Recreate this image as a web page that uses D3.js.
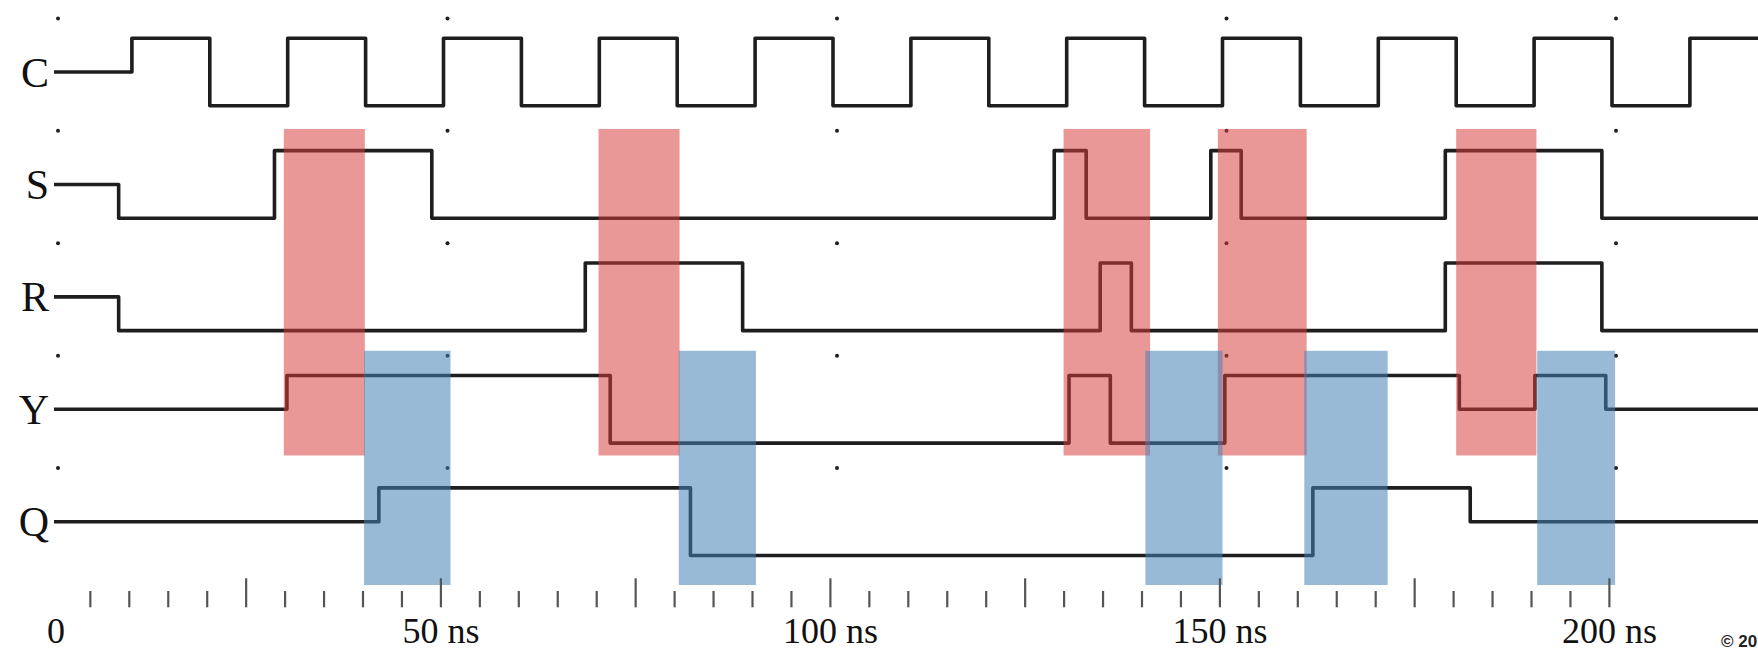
<!DOCTYPE html>
<html>
<head>
<meta charset="utf-8">
<script src="https://cdn.jsdelivr.net/npm/d3@7"></script>
<style>
    html, body { margin: 0; padding: 0; background: #fff; }
    svg { display: block; }
</style>
</head>
<body>
<svg id="timingSVG"></svg>
<script>
(function () {
    'use strict';

    // signal names, top to bottom
    const signalNames = ["C", "S", "R", "Y", "Q"];

    // each signal: [time ns, level] change points; 0.5 = undefined (middle) level
    const clockSignal = [[0, 0.5], [10, 1], [20, 0], [30, 1], [40, 0], [50, 1], [60, 0], [70, 1],
        [80, 0], [90, 1], [100, 0], [110, 1], [120, 0], [130, 1], [140, 0], [150, 1], [160, 0],
        [170, 1], [180, 0], [190, 1], [200, 0], [210, 1]];
    const setSignal = [[0, 0.5], [8.3, 0], [28.3, 1], [48.5, 0], [128.4, 1], [132.5, 0],
        [148.5, 1], [152.4, 0], [178.6, 1], [198.7, 0]];
    const resetSignal = [[0, 0.5], [8.3, 0], [68.2, 1], [88.4, 0], [134.3, 1], [138.3, 0],
        [178.6, 1], [198.7, 0]];
    const masterSignal = [[0, 0.5], [29.9, 1], [71.4, 0], [130.3, 1], [135.6, 0], [150.3, 1],
        [180.4, 0.5], [190.1, 1], [199.2, 0.5]];
    const outputSignal = [[0, 0.5], [41.7, 1], [81.7, 0], [161.6, 1], [181.8, 0.5]];

    // highlighted intervals (ns)
    const redBands = [[29.5, 39.9], [69.9, 80.3], [129.6, 140.7], [149.4, 160.8], [180, 190.3]];
    const blueBands = [[39.8, 50.9], [80.2, 90.1], [140.1, 150], [160.5, 171.2], [190.4, 200.4]];

    // time axis
    const dotTimes = [0, 50, 100, 150, 200];
    const tickTimes = [5, 10, 15, 20, 25, 30, 35, 40, 45, 50, 55, 60, 65, 70, 75, 80, 85, 90, 95, 100,
        105, 110, 115, 120, 125, 130, 135, 140, 145, 150, 155, 160, 165, 170, 175, 180, 185, 190, 195, 200];
    const labelTimes = [0, 50, 100, 150, 200];
    const labelTexts = ["0", "50 ns", "100 ns", "150 ns", "200 ns"];

    const chartWidth = 1758;
    const chartHeight = 652;
    const endTime = 222;

    const signals = [clockSignal, setSignal, resetSignal, masterSignal, outputSignal];

    const x = d3.scaleLinear()
            .domain([0, endTime])
            .range([54, 54 + endTime * 7.79]);

    const row = d3.scalePoint()
            .domain(signalNames)
            .range([72, 521.7]);

    const level = d3.scaleLinear()
            .domain([0, 1])
            .range([33.8, -33.8]);

    const svg = d3.select('#timingSVG')
            .attr("width", chartWidth)
            .attr("height", chartHeight)
            .attr("viewBox", `0 0 ${chartWidth} ${chartHeight}`);

    // little dots every 50 ns above each trace
    const dots = svg.append("g").attr("fill", "#1e1e1e");
    signalNames.forEach(name => {
        dots.selectAll(null)
                .data(dotTimes)
                .join("circle")
                .attr("cx", d => x(d) + 4)
                .attr("cy", row(name) - 53.6)
                .attr("r", 2);
    });

    // signal names
    svg.append("g")
            .attr("text-anchor", "end")
            .style("font", "42px 'Liberation Serif', 'Times New Roman', serif")
            .attr("fill", "#111")
            .selectAll("text")
            .data(signalNames)
            .join("text")
            .attr("x", 49)
            .attr("y", d => row(d) + 14.5)
            .text(d => d);

    // traces
    signals.forEach((sig, i) => {
        const name = signalNames[i];
        const pts = sig.concat([[endTime, sig[sig.length - 1][1]]]);
        const line = d3.line()
                .curve(d3.curveStepAfter)
                .x(d => x(d[0]))
                .y(d => row(name) + level(d[1]));
        svg.append("path")
                .datum(pts)
                .attr("fill", "none")
                .attr("stroke", "#1e1e1e")
                .attr("stroke-width", 3.6)
                .attr("stroke-linejoin", "round")
                .attr("d", line);
    });

    // highlight bands sit on top of the traces
    svg.append("g")
            .selectAll("rect")
            .data(redBands)
            .join("rect")
            .attr("x", d => x(d[0]))
            .attr("width", d => x(d[1]) - x(d[0]))
            .attr("y", row("S") - 55.5)
            .attr("height", (row("Y") + 46.2) - (row("S") - 55.5))
            .attr("fill", "#d83b3b")
            .attr("fill-opacity", 0.53);

    svg.append("g")
            .selectAll("rect")
            .data(blueBands)
            .join("rect")
            .attr("x", d => x(d[0]))
            .attr("width", d => x(d[1]) - x(d[0]))
            .attr("y", row("Y") - 58.5)
            .attr("height", (row("Q") + 63.3) - (row("Y") - 58.5))
            .attr("fill", "#4682b4")
            .attr("fill-opacity", 0.55);

    // ticks, longer every 25 ns
    svg.append("g")
            .attr("transform", "translate(-2.6,0)")
            .attr("stroke", "#555")
            .attr("stroke-width", 2.2)
            .selectAll("line")
            .data(tickTimes)
            .join("line")
            .attr("x1", d => x(d))
            .attr("x2", d => x(d))
            .attr("y1", d => d % 25 === 0 ? 578.3 : 591)
            .attr("y2", 607.3);

    svg.append("g")
            .attr("text-anchor", "middle")
            .style("font", "36px 'Liberation Serif', 'Times New Roman', serif")
            .attr("fill", "#111")
            .selectAll("text")
            .data(labelTimes)
            .join("text")
            .attr("x", d => d === 0 ? x(d) + 2 : x(d) - 2.6)
            .attr("y", 643)
            .text((d, i) => labelTexts[i]);

    svg.append("text")
            .attr("x", 1721)
            .attr("y", 647)
            .style("font", "bold 17px 'Liberation Sans', Arial, sans-serif")
            .attr("fill", "#222")
            .text("© 20");

}());
</script>
</body>
</html>
